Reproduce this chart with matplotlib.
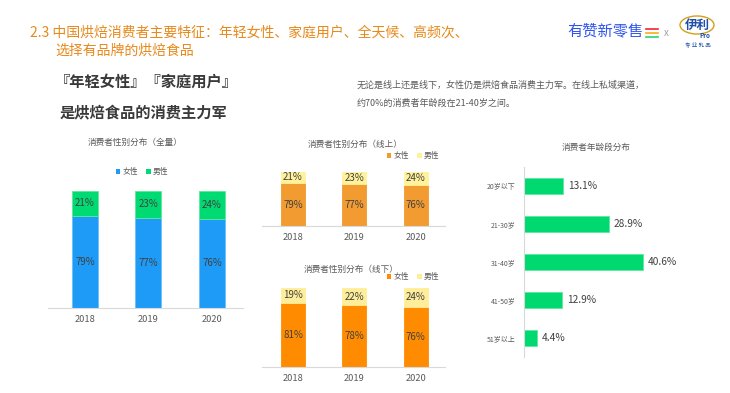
import matplotlib
matplotlib.use('Agg')
import matplotlib.pyplot as plt
from matplotlib.patches import Patch, Ellipse
from matplotlib.lines import Line2D

plt.rcParams['font.family'] = ['Noto Sans CJK SC', 'DejaVu Sans']

# data
years = ['2018', '2019', '2020']
all_female = [79, 77, 76]
all_male = [21, 23, 24]
online_female = [79, 77, 76]
online_male = [21, 23, 24]
offline_female = [81, 78, 76]
offline_male = [19, 22, 24]
age_groups = ['20岁以下', '21-30岁', '31-40岁', '41-50岁', '51岁以上']
age_share = [13.1, 28.9, 40.6, 12.9, 4.4]

W, H = 730, 393
fig = plt.figure(figsize=(W / 100, H / 100), dpi=100)
fig.patch.set_facecolor('white')


def fx(x):
    return x / W


def fy(y):
    return 1 - y / H


def box(left, top, right, bottom):
    return [fx(left), fy(bottom), (right - left) / W, (bottom - top) / H]


GRAY = '#595959'
LABEL = '#404040'

# header texts
fig.text(fx(30), fy(33), '2.3 中国烘焙消费者主要特征：年轻女性、家庭用户、全天候、高频次、',
         fontsize=10, color='#E8891A', va='center')
fig.text(fx(55), fy(51), '选择有品牌的烘焙食品', fontsize=10, color='#E8891A', va='center')
fig.text(fx(55), fy(82), '『年轻女性』『家庭用户』', fontsize=11, fontweight='bold',
         color='#3A3A3A', va='center')
fig.text(fx(60), fy(112), '是烘焙食品的消费主力军', fontsize=11, fontweight='bold',
         color='#3A3A3A', va='center')
fig.text(fx(357), fy(85), '无论是线上还是线下，女性仍是烘焙食品消费主力军。在线上私域渠道，',
         fontsize=6.5, color=GRAY, va='center')
fig.text(fx(357), fy(103), '约70%的消费者年龄段在21-40岁之间。', fontsize=6.5, color=GRAY, va='center')

# logos
fig.text(fx(567), fy(31), '有赞新零售', fontsize=11, color='#2F54EB', va='center')
for yy, c in [(29, '#F5222D'), (33, '#FAAD14'), (37, '#2FD36F')]:
    fig.add_artist(Line2D([fx(646), fx(658)], [fy(yy), fy(yy)], color=c, lw=1.2,
                          transform=fig.transFigure))
fig.text(fx(666), fy(33), 'x', fontsize=7, color='#A0A0A0', va='center', ha='center')
fig.add_artist(Ellipse((fx(697), fy(25)), 34 / W, 18 / H, transform=fig.transFigure,
                       fill=False, edgecolor='#D4A017', lw=1.0))
fig.text(fx(697), fy(25), '伊利', fontsize=9, color='#1F4FA8', fontweight='bold',
         style='italic', ha='center', va='center')
fig.text(fx(705), fy(36), 'Pro', fontsize=4.5, color='#1F4FA8', fontweight='bold',
         ha='center', va='center')
fig.text(fx(698), fy(44), '专 业 乳 品', fontsize=4, color='#1F4FA8', ha='center', va='center')


def stacked(ax, female, male, c_f, c_m, edge_f=None, edge_m=None, width=0.41):
    x = range(len(years))
    ax.bar(x, female, width=width, color=c_f, edgecolor=edge_f or c_f, linewidth=0.6)
    ax.bar(x, male, width=width, bottom=female, color=c_m, edgecolor=edge_m or c_m, linewidth=0.6)
    for i in x:
        ax.text(i, female[i] / 2, f'{female[i]}%', ha='center', va='center',
                fontsize=7, color=LABEL)
        ax.text(i, female[i] + male[i] / 2, f'{male[i]}%', ha='center', va='center',
                fontsize=7, color=LABEL)
    ax.set_ylim(0, 100)
    ax.set_xticks(list(x))
    ax.set_xticklabels(years, fontsize=6.7, color=GRAY)
    ax.set_yticks([])
    for s in ['top', 'right', 'left']:
        ax.spines[s].set_visible(False)
    ax.spines['bottom'].set_color('#D9D9D9')
    ax.spines['bottom'].set_linewidth(0.8)
    ax.tick_params(axis='x', length=0, pad=5)
    ax.set_facecolor('none')


def legend(ax, c_f, c_m, xc, yc):
    handles = [Patch(facecolor=c_f, label='女性'), Patch(facecolor=c_m, label='男性')]
    ax.legend(handles=handles, loc='center', bbox_to_anchor=(fx(xc), fy(yc)),
              bbox_transform=fig.transFigure, ncol=2, frameon=False, fontsize=5.6,
              handlelength=0.6, handleheight=0.6, handletextpad=0.3, columnspacing=1.0,
              labelcolor=GRAY)


# 全量
ax1 = fig.add_axes(box(48, 191, 243, 307.7))
stacked(ax1, all_female, all_male, '#1D9BF6', '#00DA72', '#6BC0F9', '#5DE89E')
ax1.set_xlim(-0.58, 2.49)
fig.text(fx(135), fy(142), '消费者性别分布（全量）', fontsize=6.2, color=GRAY, ha='center', va='center')
legend(ax1, '#1D9BF6', '#00DA72', 142, 172)

# 线上
ax2 = fig.add_axes(box(262, 171.7, 445, 226))
stacked(ax2, online_female, online_male, '#F29B30', '#FFF29B', width=0.39)
ax2.set_xlim(-0.506, 2.48)
fig.text(fx(355), fy(144), '消费者性别分布（线上）', fontsize=6.2, color=GRAY, ha='center', va='center')
legend(ax2, '#F29B30', '#FFF29B', 413, 156)

# 线下
ax3 = fig.add_axes(box(262, 288, 445, 366.7))
stacked(ax3, offline_female, offline_male, '#FF8C00', '#FFEE99', width=0.39)
ax3.set_xlim(-0.506, 2.48)
fig.text(fx(351), fy(269), '消费者性别分布（线下）', fontsize=6.2, color=GRAY, ha='center', va='center')
legend(ax3, '#FF8C00', '#FFEE99', 413, 277)

# 年龄段
ax4 = fig.add_axes(box(524.3, 167, 670.8, 357))
ypos = range(len(age_groups))
ax4.barh(ypos, age_share, height=0.4, color='#00D970', edgecolor='#5DE89E', linewidth=0.6)
for i in ypos:
    ax4.text(age_share[i] + 1.7, i, f'{age_share[i]}%', va='center', ha='left',
             fontsize=7.3, color=LABEL)
ax4.set_ylim(len(age_groups) - 0.5, -0.5)
ax4.set_xlim(0, 50)
ax4.set_yticks(list(ypos))
ax4.set_yticklabels(age_groups, fontsize=5, color=GRAY)
ax4.set_xticks([])
for s in ['top', 'right', 'bottom']:
    ax4.spines[s].set_visible(False)
ax4.spines['left'].set_color('#D9D9D9')
ax4.spines['left'].set_linewidth(0.8)
ax4.tick_params(axis='y', length=0, pad=6)
ax4.set_facecolor('none')
fig.text(fx(596), fy(147), '消费者年龄段分布', fontsize=6.2, color=GRAY, ha='center', va='center')

plt.savefig('out.png', dpi=100)
